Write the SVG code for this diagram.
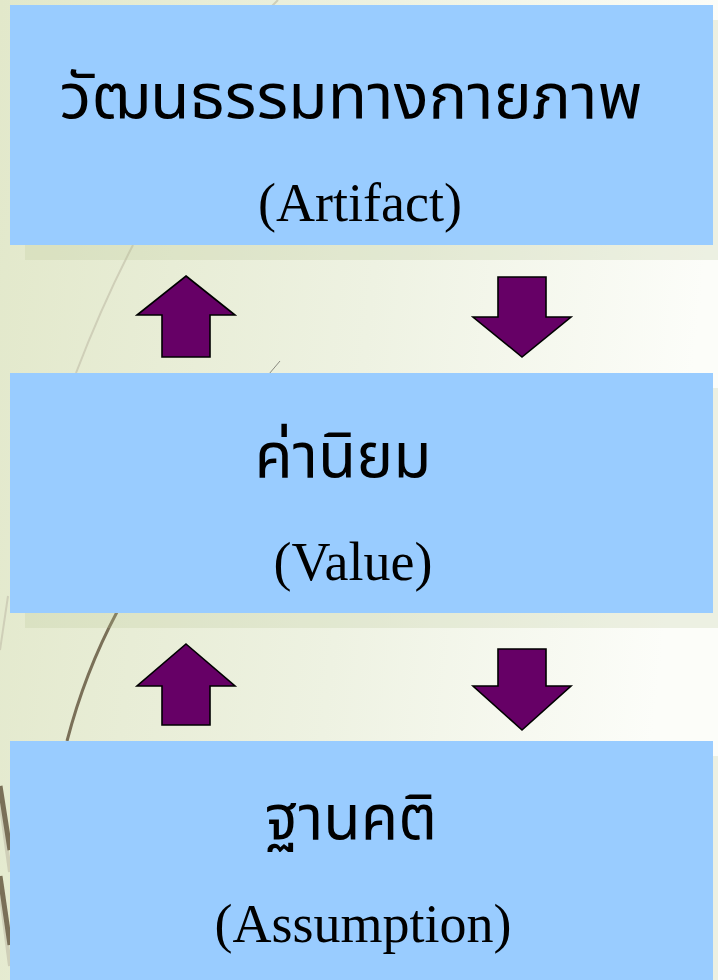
<svg xmlns="http://www.w3.org/2000/svg" width="718" height="980" viewBox="0 0 718 980">
  <defs>
    <linearGradient id="bg" x1="0" y1="0" x2="1" y2="0.15">
      <stop offset="0" stop-color="#e2e8ca"/>
      <stop offset="0.55" stop-color="#eef2e2"/>
      <stop offset="1" stop-color="#fcfdf9"/>
    </linearGradient>
    <style>
      .box { fill: #99ccff; }
      .shadow { fill: #b8c290; opacity: 0.22; }
      .arrow { fill: #660066; stroke: #000000; stroke-width: 1.6; stroke-linejoin: miter; }
      .th { font-family: "Noto Sans Thai", "Noto Serif Thai", "Liberation Serif", "DejaVu Serif", serif; font-size: 63px; fill: #000000; text-anchor: middle; }
      .en { font-family: "Liberation Serif", "DejaVu Serif", serif; font-size: 54px; fill: #000000; text-anchor: middle; }
      .deco-light { fill: none; stroke: #cfcfb8; stroke-width: 2; }
      .deco-dark { fill: none; stroke: #7a7058; stroke-width: 3; }
      .deco-thin { fill: none; stroke: #8a8a80; stroke-width: 1; }
    </style>
  </defs>

  <!-- background -->
  <rect x="0" y="0" width="718" height="980" fill="url(#bg)"/>

  <!-- decorative strokes -->
  <g id="decor">
    <path class="deco-light" d="M278,0 L270,8"/>
    <path class="deco-light" d="M133,245 Q102,305 76,373"/>
    <path class="deco-thin" d="M280,361 L269,374"/>
    <path class="deco-light" d="M8,596 L0,650"/>
    <path class="deco-dark" d="M117,612 Q85,672 67,741"/>
    <path class="deco-light" d="M0,800 L10,872" style="stroke-width:4"/>
    <path class="deco-dark" d="M0,786 L10,850" style="stroke-width:5"/>
    <path class="deco-light" d="M0,890 L10,966" style="stroke-width:4"/>
    <path class="deco-dark" d="M0,876 L10,945" style="stroke-width:5"/>
  </g>

  <!-- node 1 -->
  <g id="artifact">
    <rect class="shadow" x="25" y="20" width="703" height="240"/>
    <rect class="box" x="10" y="5" width="703" height="240"/>
    <text class="th" x="351" y="118" textLength="583" lengthAdjust="spacingAndGlyphs">วัฒนธรรมทางกายภาพ</text>
    <text class="en" x="360" y="221">(Artifact)</text>
  </g>

  <!-- node 2 -->
  <g id="value">
    <rect class="shadow" x="25" y="388" width="703" height="240"/>
    <rect class="box" x="10" y="373" width="703" height="240"/>
    <text class="th" x="343" y="477" textLength="177" lengthAdjust="spacingAndGlyphs">ค่านิยม</text>
    <text class="en" x="353" y="580">(Value)</text>
  </g>

  <!-- node 3 -->
  <g id="assumption">
    <rect class="shadow" x="25" y="756" width="703" height="240"/>
    <rect class="box" x="10" y="741" width="703" height="240"/>
    <text class="th" x="351" y="839" textLength="172" lengthAdjust="spacingAndGlyphs">ฐานคติ</text>
    <text class="en" x="363" y="942">(Assumption)</text>
  </g>

  <!-- connectors: block arrows between the layers -->
  <g id="connectors">
    <polygon class="arrow" points="186,276 235,315 210,315 210,357 162,357 162,315 137,315"/>
    <polygon class="arrow" points="498,277 546,277 546,317 571,317 522,357 473,317 498,317"/>
    <polygon class="arrow" points="186,644 235,686 210,686 210,725 162,725 162,686 137,686"/>
    <polygon class="arrow" points="498,649 546,649 546,686 571,686 522,730 473,686 498,686"/>
  </g>
</svg>
